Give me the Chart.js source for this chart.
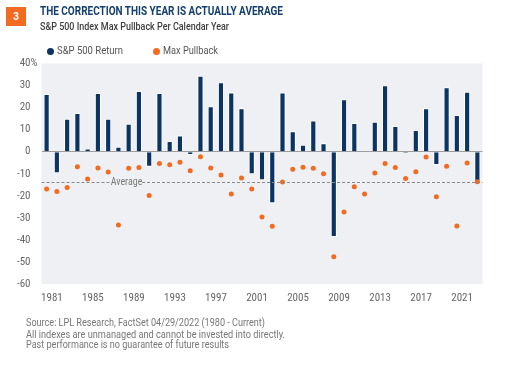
<!DOCTYPE html>
<html>
<head>
<meta charset="utf-8">
<script src="https://cdn.jsdelivr.net/npm/chart.js@4/dist/chart.umd.min.js"></script>
<style>
  html, body { margin:0; padding:0; background:#fff; }
  body { width:524px; height:367px; position:relative; overflow:hidden; font-family: Roboto, "Liberation Sans", sans-serif; }
  #wrap { position:absolute; left:0; top:0; width:524px; height:367px; }
  .t { position:absolute; white-space:nowrap; transform-origin:0 50%; }
  #badge { position:absolute; left:6px; top:7px; width:20px; height:19px; background:#f26b21; color:#fff; font: bold 10px Roboto, sans-serif; line-height:19px; text-align:center; }
  .dot { position:absolute; width:7px; height:7px; border-radius:50%; }
</style>
</head>
<body>
<div id="wrap"><canvas id="c" width="524" height="367"></canvas></div>
<div id="badge">3</div>
<div class="t" id="title" data-w="243" style="left:40px;top:4px;font-size:12.5px;line-height:14px;font-weight:700;color:#15406d;">THE CORRECTION THIS YEAR IS ACTUALLY AVERAGE</div>
<div class="t" id="sub" data-w="189" style="left:40px;top:21px;font-size:11px;line-height:12px;font-weight:500;color:#3d3d3d;">S&amp;P 500 Index Max Pullback Per Calendar Year</div>
<div class="dot" style="left:46.5px;top:48px;background:#0c3462;"></div>
<div class="t" data-w="66" style="left:57px;top:45px;font-size:11px;line-height:12px;color:#555;">S&amp;P 500 Return</div>
<div class="dot" style="left:152.5px;top:48px;background:#f26b21;"></div>
<div class="t" data-w="55" style="left:163px;top:45px;font-size:11px;line-height:12px;color:#555;">Max Pullback</div>
<div class="t" data-w="239" style="left:26px;top:317px;font-size:10.5px;line-height:12px;color:#777;">Source: LPL Research, FactSet 04/29/2022 (1980 - Current)</div>
<div class="t" data-w="259" style="left:26px;top:329px;font-size:10.5px;line-height:12px;color:#777;">All indexes are unmanaged and cannot be invested into directly.</div>
<div class="t" data-w="203" style="left:26px;top:338.5px;font-size:10.5px;line-height:12px;color:#777;">Past performance is no guarantee of future results</div>
<script>
const years = ['1980','1981','1982','1983','1984','1985','1986','1987','1988','1989',
  '1990','1991','1992','1993','1994','1995','1996','1997','1998','1999',
  '2000','2001','2002','2003','2004','2005','2006','2007','2008','2009',
  '2010','2011','2012','2013','2014','2015','2016','2017','2018','2019',
  '2020','2021','2022'];
const sp500Return = [26.2, -9.8, 15.0, 17.6, 1.5, 26.6, 15.0, 2.3, 12.7, 27.5,
  -6.8, 26.6, 4.9, 7.4, -1.5, 34.5, 20.6, 31.5, 26.9, 19.7,
  -10.2, -13.0, -23.4, 26.8, 9.3, 3.2, 14.1, 3.8, -38.7, 23.8,
  13.0, -0.2, 13.6, 30.1, 11.7, -0.7, 9.8, 19.7, -6.0, 29.2,
  16.6, 27.2, -13.6];
const maxPullback = [-16.9, -18.1, -16.2, -6.8, -12.4, -7.4, -9.2, -33.2, -7.5, -7.2,
  -19.9, -5.4, -5.9, -4.8, -8.6, -2.3, -7.4, -10.6, -19.2, -11.9,
  -16.9, -29.6, -33.8, -13.7, -8.0, -7.1, -7.5, -10.0, -47.6, -27.3,
  -15.9, -19.2, -9.7, -5.4, -7.2, -12.1, -9.1, -2.4, -20.4, -6.6,
  -33.7, -5.1, -13.6];
const averagePullback = -13.7;
const yTicks = [40, 30, 20, 10, 0, -10, -20, -30, -40, -50, -60];
const xTickLabels = ['1981','1985','1989','1993','1997','2001','2005','2009','2013','2017','2021'];

document.querySelectorAll('.t').forEach(el => {
  const w = parseFloat(el.dataset.w);
  const nat = el.getBoundingClientRect().width;
  if (w && nat) el.style.transform = 'scaleX(' + (w / nat) + ')';
});

const TICK_FONT = '"Liberation Sans Narrow", "Roboto Condensed", "DejaVu Sans Condensed", Roboto, sans-serif';

const bgPlugin = {
  id: 'bg',
  beforeDraw(chart) {
    const a = chart.chartArea, ctx = chart.ctx;
    ctx.save();
    ctx.fillStyle = '#eef0f3';
    ctx.fillRect(a.left, a.top, a.right - a.left, a.bottom - a.top);
    ctx.restore();
  }
};
const avgPlugin = {
  id: 'avg',
  afterDatasetsDraw(chart) {
    const a = chart.chartArea, ctx = chart.ctx;
    const y = Math.round(chart.scales.y.getPixelForValue(averagePullback)) + 0.5;
    const tx = 111, tw = 31;
    ctx.save();
    ctx.strokeStyle = '#8a8a8a';
    ctx.lineWidth = 1;
    ctx.setLineDash([3, 2]);
    ctx.beginPath();
    ctx.moveTo(a.left, y); ctx.lineTo(tx, y);
    ctx.moveTo(tx + tw, y); ctx.lineTo(a.right, y);
    ctx.stroke();
    ctx.setLineDash([]);
    ctx.fillStyle = '#7a7a7a';
    ctx.font = '10px ' + TICK_FONT;
    ctx.textBaseline = 'middle';
    ctx.textAlign = 'center';
    ctx.fillText('Average', tx + tw / 2, y);
    ctx.restore();
  }
};
const pctPlugin = {
  id: 'pct',
  afterDraw(chart) {
    const ctx = chart.ctx;
    const y = chart.scales.y.getPixelForValue(40);
    ctx.save();
    ctx.fillStyle = '#666';
    ctx.font = '11px ' + TICK_FONT;
    ctx.textBaseline = 'middle';
    ctx.textAlign = 'left';
    ctx.fillText('%', 30.5, y);
    ctx.restore();
  }
};

new Chart(document.getElementById('c'), {
  data: {
    labels: years,
    datasets: [
      {
        type: 'line',
        label: 'Max Pullback',
        data: maxPullback,
        showLine: false,
        pointRadius: 2.5,
        pointHoverRadius: 2.5,
        pointBackgroundColor: '#f26b21',
        pointBorderWidth: 0,
        borderColor: '#f26b21',
        order: 0
      },
      {
        type: 'bar',
        label: 'S&P 500 Return',
        data: sp500Return,
        backgroundColor: '#0c3462',
        borderColor: '#ffffff',
        borderWidth: 1,
        categoryPercentage: 1,
        barPercentage: 0.6,
        order: 1
      }
    ]
  },
  options: {
    responsive: false,
    animation: false,
    events: [],
    layout: { padding: { left: 0, right: 41.5, top: 63.5, bottom: 63 } },
    plugins: { legend: { display: false }, tooltip: { enabled: false } },
    scales: {
      x: {
        type: 'category',
        grid: { display: false, drawTicks: false },
        border: { display: false },
        afterFit(s) { s.height = 20; },
        ticks: {
          autoSkip: false,
          maxRotation: 0,
          padding: 8,
          labelOffset: -5,
          color: '#666',
          font: { size: 11, family: TICK_FONT },
          callback(v, i) { const l = years[i]; return xTickLabels.includes(l) ? l : ''; }
        }
      },
      y: {
        min: -60,
        max: 40,
        afterFit(s) { s.width = 41.5; },
        afterBuildTicks(s) { s.ticks = yTicks.map(v => ({ value: v })); },
        grid: {
          drawTicks: false,
          color: ctx => (ctx.tick && ctx.tick.value === 0) ? '#9c9c9c' : 'rgba(0,0,0,0)',
          lineWidth: 1
        },
        border: { display: false },
        ticks: {
          padding: 11,
          color: '#666',
          font: { size: 11, family: TICK_FONT },
          callback(v) { return String(v); }
        }
      }
    }
  },
  plugins: [bgPlugin, avgPlugin, pctPlugin]
});
</script>
</body>
</html>
